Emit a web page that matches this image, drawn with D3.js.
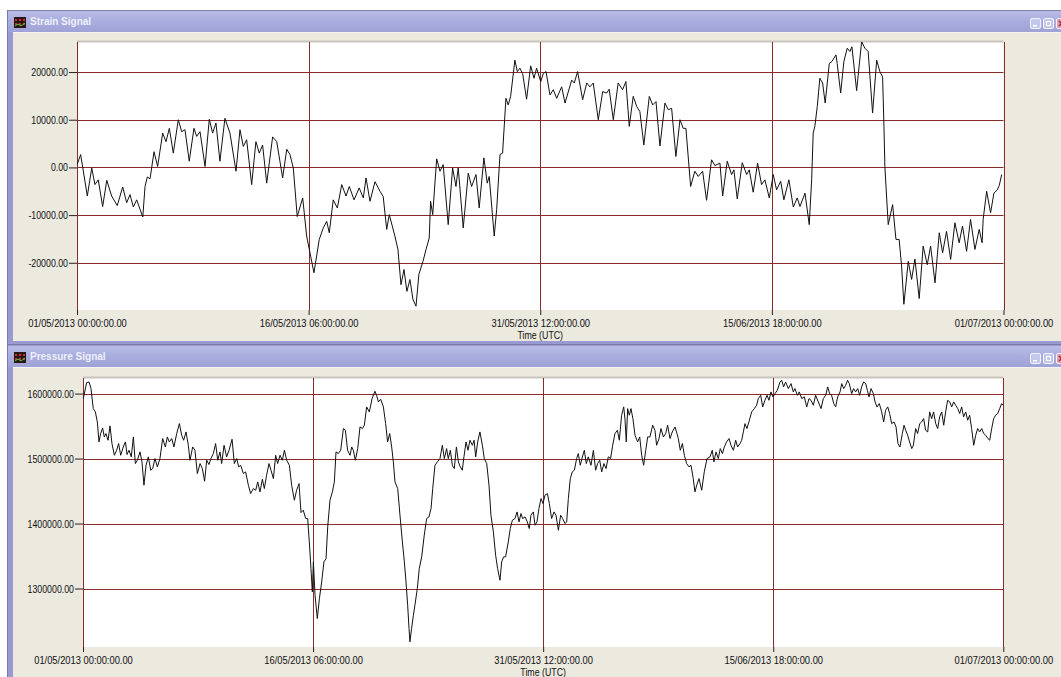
<!DOCTYPE html>
<html>
<head>
<meta charset="utf-8">
<script src="https://cdn.jsdelivr.net/npm/d3@7"></script>
<style>
  html, body { margin: 0; padding: 0; background: #ffffff; }
  svg { display: block; }
  .axis text { font-family: "Liberation Sans", Arial, sans-serif; font-size: 11px; fill: #111; }
  .axis line { stroke: #222; }
  .axis .domain { display: none; }
  .axis-title { font-family: "Liberation Sans", Arial, sans-serif; font-size: 11px; fill: #111; }
  .win-title { font-family: "Liberation Sans", Arial, sans-serif; font-size: 10px; font-weight: bold; fill: #eef0fb; }
</style>
</head>
<body>
<svg id="chart" width="1061" height="677"></svg>
<script>
// ---- time axis ----
const timeStart = new Date(Date.UTC(2013, 4, 1, 0));
const timeEnd = new Date(Date.UTC(2013, 6, 1, 0));
const timeTicks = [
  new Date(Date.UTC(2013, 4, 1, 0)),
  new Date(Date.UTC(2013, 4, 16, 6)),
  new Date(Date.UTC(2013, 4, 31, 12)),
  new Date(Date.UTC(2013, 5, 15, 18)),
  new Date(Date.UTC(2013, 6, 1, 0))
];
const timeAxisTitle = "Time (UTC)";

// ---- strain panel ----
const strainTitle = "Strain Signal";
const strainTicks = [20000, 10000, 0, -10000, -20000];
const strainDomain = [-29900, 26300];
// [days since 01/05/2013 00:00, strain]
const strainSeries = [
  [0.00,500],[0.24,2700],[0.68,-6000],[0.97,-100],[1.18,-3600],[1.40,-2600],[1.69,-8200],[1.96,-2700],
  [2.28,-6000],[2.65,-8000],[3.01,-4100],[3.27,-7400],[3.49,-5700],[3.71,-8300],[3.93,-6800],[4.33,-10400],
  [4.48,-4000],[4.63,-2000],[4.81,-2400],[5.07,3300],[5.31,200],[5.64,7200],[5.86,5400],[6.08,8200],
  [6.34,3000],[6.67,10000],[6.89,7500],[7.11,7900],[7.39,1300],[7.70,8200],[7.88,6500],[8.10,7500],
  [8.43,200],[8.71,10100],[8.93,7200],[9.15,9300],[9.41,1300],[9.74,10300],[10.07,7200],[10.47,-800],
  [10.73,7900],[10.95,4400],[11.17,5800],[11.50,-3600],[11.78,5400],[12.00,3000],[12.22,4700],[12.49,-3300],
  [12.88,6400],[13.15,5400],[13.54,-2200],[13.81,3800],[14.02,2700],[14.24,-100],[14.50,-10300],[14.86,-6400],
  [15.12,-14400],[15.60,-22100],[15.95,-15100],[16.21,-12700],[16.44,-11300],[16.61,-13700],[16.87,-6800],[17.14,-8500],
  [17.43,-3600],[17.71,-6000],[17.93,-4000],[18.24,-6800],[18.58,-4300],[18.85,-6400],[19.03,-2200],[19.29,-7100],
  [19.62,-3000],[19.95,-5000],[20.16,-6100],[20.39,-13000],[20.56,-9900],[20.93,-14400],[21.13,-17200],[21.33,-24600],
  [21.53,-21400],[21.72,-26000],[21.92,-23500],[22.12,-27700],[22.32,-29100],[22.51,-22400],[22.78,-19700],[22.98,-17200],
  [23.19,-14800],[23.28,-7100],[23.42,-9900],[23.68,1800],[23.90,-800],[24.11,600],[24.44,-12000],[24.73,-100],
  [24.95,-4000],[25.10,-100],[25.43,-12700],[25.76,-1200],[25.98,-4000],[26.27,-1500],[26.48,-8500],[26.79,2000],
  [27.01,-3300],[27.14,-1900],[27.47,-14400],[27.63,-8800],[27.85,2700],[28.02,3000],[28.24,14500],[28.39,13100],
  [28.55,14900],[28.83,22500],[28.99,20100],[29.16,20800],[29.34,19700],[29.60,14300],[29.87,21300],[30.09,18700],
  [30.26,20800],[30.53,18000],[30.70,19700],[30.88,20100],[31.14,15200],[31.36,16300],[31.58,14500],[31.91,16900],
  [32.13,13500],[32.57,18300],[32.74,17700],[32.96,20100],[33.29,14200],[33.56,17700],[33.77,16900],[33.99,17700],
  [34.32,10000],[34.61,15900],[34.87,15600],[35.04,16400],[35.31,10000],[35.63,17700],[35.92,16300],[36.14,18000],
  [36.36,8600],[36.62,14900],[36.85,12800],[37.06,11700],[37.32,4700],[37.68,14900],[37.90,13100],[38.12,13800],
  [38.38,4500],[38.71,13500],[38.93,12100],[39.15,12400],[39.43,2300],[39.70,10000],[39.91,8200],[40.09,8200],
  [40.40,-4000],[40.68,-800],[40.90,-1900],[41.19,-800],[41.45,-6900],[41.78,1600],[42.00,400],[42.33,900],
  [42.51,-6000],[42.81,1300],[43.10,-1500],[43.25,-500],[43.47,-6600],[43.80,1000],[44.09,-1500],[44.26,-500],
  [44.52,-5200],[44.81,900],[45.07,-3600],[45.29,-2600],[45.58,-6400],[45.84,-1500],[46.06,-4700],[46.33,-2900],
  [46.54,-6800],[46.87,-2600],[47.16,-8300],[47.42,-6400],[47.60,-8200],[47.93,-5400],[48.21,-12000],[48.37,-2600],
  [48.47,7200],[48.58,8600],[48.74,12800],[48.91,18700],[49.09,17700],[49.26,13500],[49.53,21800],[49.70,22200],
  [49.97,23600],[50.05,21800],[50.28,15600],[50.49,22200],[50.71,25000],[50.89,24300],[51.02,25300],[51.33,16100],
  [51.66,26400],[51.87,25000],[52.09,24300],[52.38,11400],[52.65,22500],[52.86,20100],[53.04,19000],[53.13,8600],
  [53.19,200],[53.30,-6000],[53.41,-12000],[53.70,-7800],[53.92,-15100],[54.13,-15100],[54.29,-20700],[54.44,-28700],
  [54.73,-19700],[54.95,-23500],[55.17,-19200],[55.45,-27500],[55.71,-16500],[55.98,-20400],[56.20,-16500],[56.49,-24200],
  [56.77,-13700],[56.99,-17900],[57.25,-13400],[57.52,-19300],[57.80,-11600],[58.08,-15800],[58.30,-12300],[58.57,-17600],
  [58.83,-10900],[59.12,-17200],[59.40,-13000],[59.59,-15800],[59.66,-10900],[59.89,-5000],[60.15,-9500],[60.37,-5400],
  [60.59,-4700],[60.72,-3800],[60.88,-1500]
];

// ---- pressure panel ----
const pressureTitle = "Pressure Signal";
const pressureTicks = [1600000, 1500000, 1400000, 1300000];
const pressureDomain = [1210000, 1624000];
// [days since 01/05/2013 00:00, pressure]
const pressureSeries = [
  [0.02,1592300],[0.24,1616900],[0.40,1617900],[0.53,1607700],[0.68,1576900],[0.82,1571800],[0.95,1556400],[1.06,1525600],
  [1.17,1538500],[1.30,1547200],[1.41,1533300],[1.52,1538500],[1.66,1528200],[1.79,1550300],[1.92,1523100],[2.08,1505100],
  [2.23,1512800],[2.36,1523100],[2.50,1505100],[2.67,1517900],[2.81,1525600],[2.92,1506200],[3.05,1512800],[3.20,1502600],
  [3.34,1533300],[3.47,1492300],[3.60,1497400],[3.78,1510300],[3.91,1494900],[4.04,1459000],[4.18,1489700],[4.33,1502600],
  [4.49,1482100],[4.62,1484600],[4.77,1500000],[4.93,1487200],[5.10,1500000],[5.28,1530800],[5.46,1517900],[5.59,1533300],
  [5.72,1525600],[5.88,1530800],[6.03,1517900],[6.21,1538500],[6.39,1553800],[6.54,1535900],[6.67,1528200],[6.83,1541000],
  [6.98,1520500],[7.09,1497400],[7.27,1517900],[7.42,1512800],[7.58,1476900],[7.76,1492300],[7.91,1484600],[8.06,1465100],
  [8.20,1497400],[8.35,1490800],[8.48,1500000],[8.64,1507700],[8.79,1523100],[8.93,1497400],[9.08,1510300],[9.19,1492300],
  [9.35,1520500],[9.52,1502600],[9.68,1512800],[9.88,1529700],[10.03,1492300],[10.19,1500000],[10.32,1487200],[10.45,1489700],
  [10.63,1476900],[10.78,1479500],[10.96,1459000],[11.11,1446200],[11.29,1453800],[11.45,1451300],[11.58,1464100],[11.73,1448700],
  [11.89,1468200],[12.02,1453800],[12.17,1474400],[12.33,1492300],[12.46,1482100],[12.62,1469200],[12.77,1505100],[12.90,1492300],
  [13.06,1505100],[13.21,1497400],[13.35,1512800],[13.50,1497400],[13.68,1489700],[13.83,1459000],[14.01,1435900],[14.16,1451300],
  [14.32,1461500],[14.45,1416900],[14.60,1420500],[14.76,1407700],[14.89,1407700],[15.00,1371800],[15.11,1330800],[15.20,1294900],
  [15.27,1341000],[15.38,1289700],[15.53,1253800],[15.67,1284600],[15.82,1310300],[15.97,1341000],[16.11,1346200],[16.22,1394900],
  [16.37,1435900],[16.53,1448700],[16.66,1464100],[16.77,1510300],[16.92,1507700],[17.08,1512800],[17.26,1546200],[17.39,1543600],
  [17.54,1512800],[17.70,1505100],[17.81,1517900],[17.92,1512800],[18.05,1497400],[18.21,1515400],[18.36,1548700],[18.52,1546200],
  [18.65,1551300],[18.80,1579500],[18.98,1571800],[19.16,1592300],[19.35,1603600],[19.46,1597400],[19.58,1587200],[19.73,1591300],
  [19.91,1579500],[20.06,1553800],[20.19,1525600],[20.33,1538500],[20.46,1517900],[20.57,1494900],[20.68,1464100],[20.86,1453800],
  [21.01,1412800],[21.17,1371800],[21.30,1341000],[21.41,1310300],[21.52,1274400],[21.61,1238500],[21.67,1218000],[21.78,1238500],
  [21.90,1259000],[22.00,1274400],[22.16,1300000],[22.29,1330800],[22.45,1348700],[22.62,1382100],[22.78,1407700],[22.93,1410300],
  [23.07,1423100],[23.18,1453800],[23.33,1489700],[23.49,1494900],[23.66,1500000],[23.82,1520500],[23.95,1500000],[24.10,1515400],
  [24.21,1500000],[24.35,1512800],[24.48,1489700],[24.61,1484600],[24.75,1517900],[24.88,1494900],[25.01,1487200],[25.14,1482100],
  [25.25,1502600],[25.39,1525600],[25.52,1512800],[25.65,1528200],[25.81,1520500],[25.92,1528200],[26.03,1502600],[26.16,1525600],
  [26.31,1541000],[26.47,1520500],[26.60,1500000],[26.76,1492300],[26.91,1459000],[27.04,1412800],[27.20,1387200],[27.35,1351300],
  [27.48,1330800],[27.64,1312800],[27.75,1341000],[27.88,1348700],[28.01,1348700],[28.19,1371800],[28.32,1392300],[28.46,1405100],
  [28.63,1407700],[28.77,1417900],[28.90,1402600],[29.03,1415400],[29.14,1407700],[29.30,1410300],[29.45,1402600],[29.58,1392300],
  [29.69,1412800],[29.85,1417900],[29.96,1397400],[30.09,1402600],[30.22,1423100],[30.36,1438500],[30.49,1430800],[30.62,1443600],
  [30.78,1446200],[30.91,1430800],[31.06,1407700],[31.22,1417900],[31.35,1412800],[31.51,1389700],[31.66,1412800],[31.79,1407700],
  [31.95,1400000],[32.06,1402600],[32.17,1438500],[32.30,1469200],[32.43,1479500],[32.57,1482100],[32.72,1500000],[32.83,1507700],
  [32.96,1489700],[33.10,1502600],[33.23,1512800],[33.36,1492300],[33.49,1502600],[33.67,1489700],[33.83,1512800],[33.98,1482100],
  [34.11,1492300],[34.25,1497400],[34.38,1479500],[34.53,1492300],[34.67,1484600],[34.82,1502600],[34.97,1500000],[35.11,1520500],
  [35.26,1538500],[35.42,1543600],[35.55,1528200],[35.70,1566700],[35.84,1579500],[35.93,1559000],[36.01,1525600],[36.10,1576900],
  [36.21,1566700],[36.32,1576900],[36.45,1561500],[36.59,1535900],[36.76,1525600],[36.90,1533300],[37.03,1505100],[37.16,1489700],
  [37.30,1512800],[37.43,1533300],[37.58,1533300],[37.76,1551300],[37.91,1543600],[38.02,1520500],[38.18,1530800],[38.31,1546200],
  [38.47,1533300],[38.62,1538500],[38.75,1551300],[38.91,1530800],[39.06,1541000],[39.24,1548700],[39.37,1538500],[39.46,1530800],
  [39.59,1512800],[39.73,1523100],[39.86,1505100],[40.01,1492300],[40.17,1487200],[40.30,1489700],[40.45,1469200],[40.56,1448700],
  [40.68,1459000],[40.83,1469200],[41.01,1451300],[41.18,1479500],[41.36,1500000],[41.56,1502600],[41.71,1512800],[41.82,1494900],
  [41.96,1510300],[42.11,1500000],[42.24,1515400],[42.38,1507700],[42.51,1517900],[42.66,1525600],[42.82,1530800],[42.95,1520500],
  [43.11,1512800],[43.26,1528200],[43.39,1517900],[43.55,1523100],[43.66,1528200],[43.77,1541000],[43.88,1553800],[44.01,1546200],
  [44.14,1556400],[44.32,1571800],[44.50,1576900],[44.65,1582100],[44.76,1592300],[44.92,1597400],[45.05,1579500],[45.20,1589700],
  [45.34,1597400],[45.47,1589700],[45.60,1602600],[45.73,1594900],[45.87,1600000],[46.02,1605100],[46.20,1617900],[46.31,1620500],
  [46.44,1610300],[46.57,1617900],[46.75,1607700],[46.93,1615400],[47.08,1602600],[47.19,1607700],[47.35,1597400],[47.48,1602600],
  [47.64,1592300],[47.81,1594900],[47.97,1579500],[48.12,1592300],[48.25,1589700],[48.41,1582100],[48.56,1597400],[48.74,1587200],
  [48.92,1576900],[49.07,1592300],[49.23,1597400],[49.36,1610300],[49.49,1600000],[49.62,1597400],[49.76,1584600],[49.89,1579500],
  [50.02,1594900],[50.18,1602600],[50.29,1615400],[50.42,1607700],[50.55,1612800],[50.68,1620500],[50.79,1615400],[50.95,1600000],
  [51.08,1607700],[51.21,1602600],[51.35,1607700],[51.48,1597400],[51.61,1610300],[51.74,1617900],[51.88,1615400],[51.99,1605100],
  [52.10,1594900],[52.23,1607700],[52.39,1600000],[52.50,1587200],[52.63,1579500],[52.78,1584600],[52.94,1571800],[53.07,1556400],
  [53.20,1574400],[53.34,1579500],[53.47,1569200],[53.60,1553800],[53.76,1556400],[53.89,1548700],[54.02,1523100],[54.15,1517900],
  [54.31,1538500],[54.42,1551300],[54.53,1543600],[54.66,1535900],[54.79,1525600],[54.93,1515400],[55.04,1520500],[55.19,1546200],
  [55.32,1538500],[55.46,1553800],[55.59,1556400],[55.72,1561500],[55.85,1543600],[55.99,1541000],[56.12,1571800],[56.25,1561500],
  [56.38,1571800],[56.52,1553800],[56.65,1546200],[56.78,1564100],[56.92,1571800],[57.05,1551300],[57.18,1571800],[57.31,1589700],
  [57.45,1587200],[57.58,1579500],[57.71,1587200],[57.84,1582100],[57.98,1576900],[58.11,1569200],[58.24,1579500],[58.37,1564100],
  [58.51,1571800],[58.64,1559000],[58.77,1566700],[58.90,1546200],[59.04,1520500],[59.17,1535900],[59.30,1546200],[59.43,1541000],
  [59.57,1546200],[59.70,1538500],[59.83,1535900],[59.98,1530800],[60.10,1528200],[60.23,1546200],[60.36,1561500],[60.49,1566700],
  [60.63,1569200],[60.76,1576900],[60.89,1584600],[61.00,1582100]
];

// ---- drawing ----
const W = 1061, H = 677;
const svg = d3.select("#chart");
const defs = svg.append("defs");

const grad = defs.append("linearGradient").attr("id", "titleGrad")
  .attr("x1", 0).attr("y1", 0).attr("x2", 0).attr("y2", 1);
grad.append("stop").attr("offset", "0%").attr("stop-color", "#b9bce6");
grad.append("stop").attr("offset", "45%").attr("stop-color", "#aaaedf");
grad.append("stop").attr("offset", "100%").attr("stop-color", "#9ea2d6");

const dayMs = 86400000;
const toDate = d => new Date(timeStart.getTime() + d * dayMs);
const fmtTime = d3.utcFormat("%d/%m/%Y %H:%M:%S");

// narrow horizontal squeeze for axis lettering (condensed look of the instrument software)
const yLabelSqueeze = 0.8, dateLabelSqueeze = 0.85, titleSqueeze = 0.8;

const panels = [
  { title: strainTitle, series: strainSeries, ticks: strainTicks, domain: strainDomain,
    frame: [10, 344], titleBar: [11, 32],
    plot: { left: 77, top: 42, right: 1003.5, bottom: 310 }, id: "strain" },
  { title: pressureTitle, series: pressureSeries, ticks: pressureTicks, domain: pressureDomain,
    frame: [344, 690], titleBar: [346, 367],
    plot: { left: 83, top: 378, right: 1003.3, bottom: 647 }, id: "pressure" }
];

const gridColor = "#8b2a2a";

panels.forEach(p => {
  const g = svg.append("g");
  const [fTop, fBot] = p.frame;
  const [tTop, tBot] = p.titleBar;

  // window frame
  g.append("rect").attr("x", 7).attr("y", fTop).attr("width", W - 7).attr("height", fBot - fTop)
    .attr("fill", "#9a9ad2");
  g.append("line").attr("x1", 7).attr("x2", W).attr("y1", fTop + 0.5).attr("y2", fTop + 0.5)
    .attr("stroke", "#7c7ca6");
  g.append("line").attr("x1", 7.5).attr("x2", 7.5).attr("y1", fTop).attr("y2", fBot)
    .attr("stroke", "#7a7ab8");

  // title bar
  g.append("rect").attr("x", 8).attr("y", tTop).attr("width", W - 8).attr("height", tBot - tTop)
    .attr("fill", "url(#titleGrad)");

  // window icon
  const ix = 14, iy = tTop + 6;
  g.append("rect").attr("x", ix).attr("y", iy).attr("width", 12).attr("height", 11).attr("fill", "#2a1414");
  [[1, 2], [5, 2], [9, 2], [1, 6], [5, 6], [9, 6]].forEach(([dx, dy]) =>
    g.append("rect").attr("x", ix + dx).attr("y", iy + dy).attr("width", 2).attr("height", 2).attr("fill", "#c83030"));
  g.append("polyline").attr("points", `${ix + 1},${iy + 9} ${ix + 4},${iy + 7} ${ix + 7},${iy + 9} ${ix + 11},${iy + 6}`)
    .attr("fill", "none").attr("stroke", "#40d040").attr("stroke-width", 1);

  g.append("text").attr("class", "win-title").attr("x", 30).attr("y", tTop + 14).text(p.title);

  // caption buttons
  [1030, 1043, 1056].forEach((bx, i) => {
    const by = tTop + 7;
    g.append("rect").attr("x", bx + 0.5).attr("y", by + 0.5).attr("width", 10).attr("height", 10).attr("rx", 1.5)
      .attr("fill", i === 2 ? "#d8a0b8" : "#c4c7ec").attr("stroke", "#f4f4ff");
    if (i === 0) g.append("rect").attr("x", bx + 3).attr("y", by + 7).attr("width", 4).attr("height", 1.5).attr("fill", "#fff");
    if (i === 1) g.append("rect").attr("x", bx + 3.5).attr("y", by + 3.5).attr("width", 4).attr("height", 4)
      .attr("fill", "none").attr("stroke", "#fff");
    if (i === 2) g.append("path").attr("d", `M${bx + 3},${by + 3}L${bx + 8},${by + 8}M${bx + 8},${by + 3}L${bx + 3},${by + 8}`)
      .attr("stroke", "#c02020").attr("stroke-width", 1.5);
  });

  // client area
  const cBot = p.id === "strain" ? 341 : H;
  g.append("rect").attr("x", 13).attr("y", tBot).attr("width", W - 13).attr("height", cBot - tBot).attr("fill", "#ece9df");
  g.append("line").attr("x1", 13).attr("x2", W).attr("y1", tBot + 0.5).attr("y2", tBot + 0.5).attr("stroke", "#f6f5ef");

  // plot area
  const pl = p.plot;
  g.append("rect").attr("x", pl.left).attr("y", pl.top).attr("width", pl.right - pl.left).attr("height", pl.bottom - pl.top)
    .attr("fill", "#ffffff");
  g.append("line").attr("x1", pl.left).attr("x2", pl.right).attr("y1", pl.top - 0.5).attr("y2", pl.top - 0.5)
    .attr("stroke", "#c6c4bc").attr("stroke-width", 2);

  const x = d3.scaleUtc().domain([timeStart, timeEnd]).range([pl.left, pl.right]);
  const y = d3.scaleLinear().domain(p.domain).range([pl.bottom, pl.top]);

  // grid
  g.append("g").selectAll("line").data(p.ticks).join("line")
    .attr("x1", pl.left).attr("x2", pl.right)
    .attr("y1", d => Math.round(y(d)) + 0.5).attr("y2", d => Math.round(y(d)) + 0.5)
    .attr("stroke", gridColor).attr("stroke-width", 1);
  g.append("g").selectAll("line").data(timeTicks).join("line")
    .attr("x1", d => Math.round(x(d)) + 0.5).attr("x2", d => Math.round(x(d)) + 0.5)
    .attr("y1", pl.top).attr("y2", pl.bottom)
    .attr("stroke", gridColor).attr("stroke-width", 1);

  // signal
  defs.append("clipPath").attr("id", "clip-" + p.id).append("rect")
    .attr("x", pl.left).attr("y", pl.top).attr("width", pl.right - pl.left).attr("height", pl.bottom - pl.top);
  const line = d3.line().x(d => x(toDate(d[0]))).y(d => y(d[1]));
  g.append("path").datum(p.series).attr("clip-path", `url(#clip-${p.id})`)
    .attr("d", line).attr("fill", "none").attr("stroke", "#111").attr("stroke-width", 1)
    .attr("stroke-linejoin", "round");

  // axes
  const yAx = g.append("g").attr("class", "axis").attr("transform", `translate(${pl.left},0)`)
    .call(d3.axisLeft(y).tickValues(p.ticks).tickFormat(d => d.toFixed(2)).tickSize(8).tickPadding(1));
  yAx.selectAll(".tick text")
    .attr("x", -9 / yLabelSqueeze)
    .attr("transform", `scale(${yLabelSqueeze},1)`);

  const xAx = g.append("g").attr("class", "axis").attr("transform", `translate(0,${pl.bottom})`)
    .call(d3.axisBottom(x).tickValues(timeTicks).tickFormat(d => fmtTime(d) + ".00").tickSize(5).tickPadding(4));
  xAx.selectAll(".tick text").attr("transform", `scale(${dateLabelSqueeze},1)`);

  g.append("text").attr("class", "axis-title").attr("text-anchor", "middle")
    .attr("transform", `translate(${(pl.left + pl.right) / 2},${pl.bottom + 29}) scale(${titleSqueeze},1)`)
    .text(timeAxisTitle);
});
</script>
</body>
</html>
